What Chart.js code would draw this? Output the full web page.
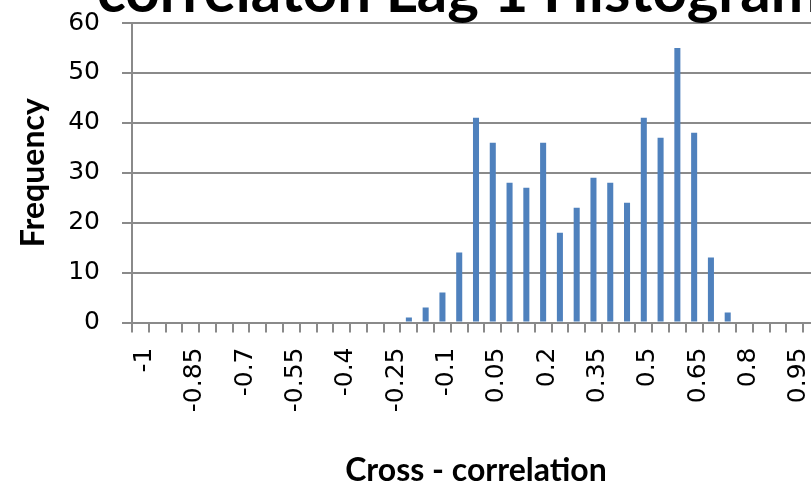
<!DOCTYPE html>
<html>
<head>
<meta charset="utf-8">
<script src="https://cdn.jsdelivr.net/npm/chart.js@4"></script>
<style>
  html, body { margin: 0; padding: 0; background: #fff; overflow: hidden; }
  #wrap { width: 811px; height: 491px; overflow: hidden; position: relative; }
  canvas { display: block; }
</style>
</head>
<body>
<div id="wrap">
  <canvas id="chart" width="840" height="491"></canvas>
</div>
<script>
// histogram bins (upper edge of each bin)
const binLabels = [
  "-1", "-0.95", "-0.9", "-0.85", "-0.8", "-0.75", "-0.7", "-0.65", "-0.6", "-0.55",
  "-0.5", "-0.45", "-0.4", "-0.35", "-0.3", "-0.25", "-0.2", "-0.15", "-0.1", "-0.05",
  "0", "0.05", "0.1", "0.15", "0.2", "0.25", "0.3", "0.35", "0.4", "0.45",
  "0.5", "0.55", "0.6", "0.65", "0.7", "0.75", "0.8", "0.85", "0.9", "0.95", "1"
];

const frequency = [
  0, 0, 0, 0, 0, 0, 0, 0, 0, 0,
  0, 0, 0, 0, 0, 0, 1, 3, 6, 14,
  41, 36, 28, 27, 36, 18, 23, 29, 28, 24,
  41, 37, 55, 38, 13, 2, 0, 0, 0, 0, 0
];

const yTicks = [0, 10, 20, 30, 40, 50, 60];

const chartTitle = "correlaton Lag 1 Histogram";
const xTitle = "Cross - correlation";
const yTitle = "Frequency";

const gridColor = "#8a8a8a";
const tickFont = { family: "DejaVu Sans", size: 25 };
const titleFont = { family: "Lato", size: 32, weight: "bold", lineHeight: 1.2 };

// the title sits partly above the picture, so it is drawn by hand
const topTitle = {
  id: "topTitle",
  afterDraw(chart) {
    const ctx = chart.ctx;
    ctx.save();
    ctx.font = "bold 60px Lato";
    ctx.fillStyle = "#000";
    ctx.textAlign = "center";
    ctx.textBaseline = "alphabetic";
    ctx.fillText(chartTitle, 459, 12);
    ctx.restore();
  },
};

const ctx = document.getElementById("chart").getContext("2d");
new Chart(ctx, {
  type: "bar",
  data: {
    labels: binLabels,
    datasets: [
      {
        label: yTitle,
        data: frequency,
        backgroundColor: "#4F81BD",
        borderWidth: 0,
        categoryPercentage: 1,
        barPercentage: 0.36,
      },
    ],
  },
  options: {
    responsive: false,
    animation: false,
    layout: { padding: { top: 23, right: 20, bottom: 0, left: 0 } },
    plugins: {
      legend: { display: false },
      tooltip: { enabled: false },
      title: { display: false },
    },
    scales: {
      x: {
        offset: true,
        grid: {
          offset: true,
          drawOnChartArea: false,
          drawTicks: true,
          tickLength: 10,
          color: gridColor,
          lineWidth: 2,
        },
        border: { display: true, color: gridColor, width: 2 },
        ticks: {
          autoSkip: false,
          maxRotation: 90,
          minRotation: 90,
          padding: 15,
          labelOffset: 4,
          color: "#000",
          font: tickFont,
          callback: (value, index) => (index % 3 === 0 ? binLabels[index] : ""),
        },
        title: {
          display: true,
          text: xTitle,
          color: "#000",
          font: titleFont,
          padding: { top: 0, bottom: 1 },
        },
        afterFit: (scale) => {
          scale.height = 168.5;
          scale.paddingLeft = 0;
          scale.paddingRight = 0;
        },
      },
      y: {
        min: 0,
        max: 60,
        afterBuildTicks: (scale) => {
          scale.ticks = yTicks.map((v) => ({ value: v }));
        },
        grid: {
          color: gridColor,
          lineWidth: 2,
          drawTicks: true,
          tickLength: 10,
        },
        border: { display: true, color: gridColor, width: 2 },
        ticks: {
          padding: 22,
          color: "#000",
          font: tickFont,
        },
        title: {
          display: true,
          text: yTitle,
          color: "#000",
          font: titleFont,
          padding: { top: 14, bottom: 0 },
        },
        afterFit: (scale) => {
          scale.width = 132;
          scale.paddingTop = 0;
          scale.paddingBottom = 0;
        },
      },
    },
  },
  plugins: [topTitle],
});
</script>
</body>
</html>
